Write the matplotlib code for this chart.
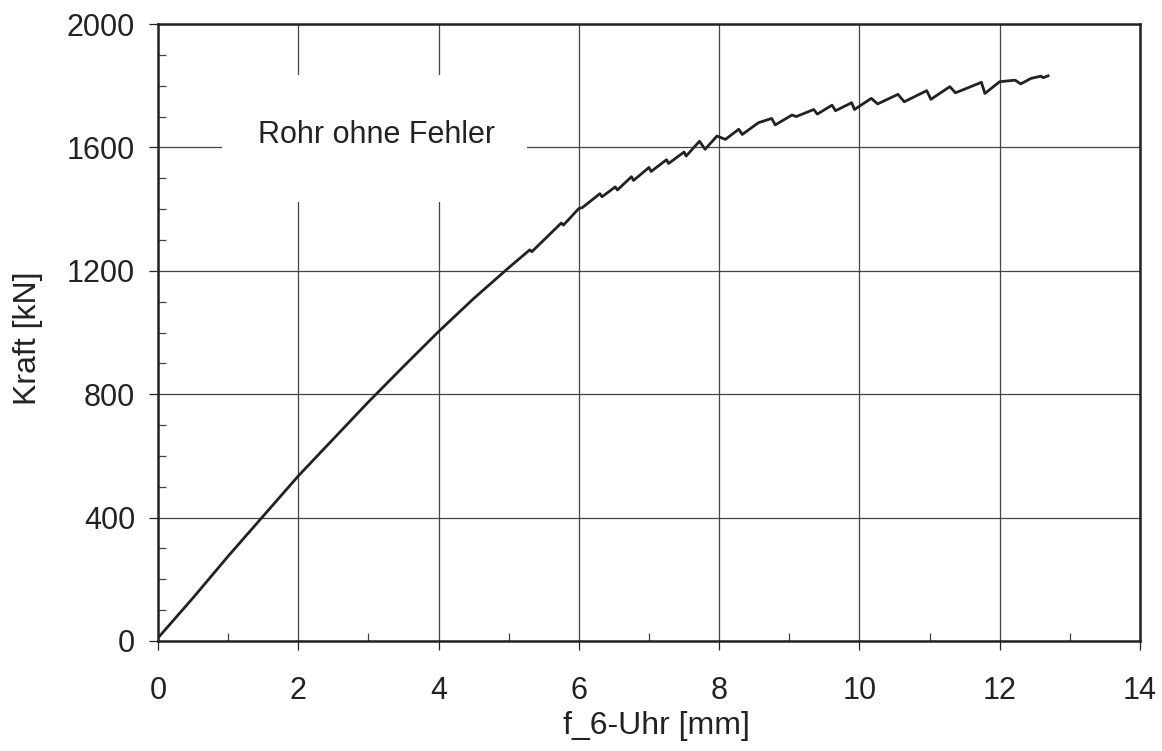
import matplotlib
matplotlib.use("Agg")
import matplotlib.pyplot as plt
from matplotlib.patches import Rectangle
from matplotlib.ticker import MultipleLocator

# Data
deflection_mm = [0.0, 0.5, 1.0, 1.5, 2.0, 2.5, 3.0, 3.5, 4.0, 4.5, 5.0,
                 5.30, 5.33, 5.75, 5.78, 6.00, 6.05, 6.30, 6.33, 6.52, 6.55,
                 6.75, 6.78, 7.00, 7.03, 7.25, 7.28, 7.50, 7.53, 7.72, 7.80,
                 7.97, 8.09, 8.28, 8.33, 8.56, 8.75, 8.80, 9.04, 9.10, 9.35,
                 9.40, 9.61, 9.66, 9.89, 9.93, 10.17, 10.26, 10.55, 10.64,
                 10.96, 11.02, 11.29, 11.37, 11.74, 11.79, 12.00, 12.22,
                 12.30, 12.45, 12.59, 12.62, 12.69]
force_kN = [10, 140, 275, 405, 535, 655, 775, 890, 1003, 1110, 1210,
            1268, 1262, 1355, 1348, 1402, 1405, 1450, 1440, 1472, 1462,
            1505, 1493, 1535, 1522, 1560, 1548, 1585, 1572, 1620, 1594,
            1637, 1626, 1659, 1642, 1680, 1694, 1673, 1705, 1700, 1723,
            1708, 1737, 1719, 1745, 1723, 1759, 1741, 1772, 1748,
            1784, 1756, 1797, 1777, 1811, 1775, 1813, 1818,
            1806, 1824, 1831, 1826, 1832]
x_ticks = [0, 2, 4, 6, 8, 10, 12, 14]
y_ticks = [0, 400, 800, 1200, 1600, 2000]
annotation = "Rohr ohne Fehler"

plt.rcParams['font.family'] = ['Liberation Sans', 'DejaVu Sans']

fig = plt.figure(figsize=(11.62, 7.51), dpi=100)
ax = fig.add_axes([0.136, 0.1465, 0.845, 0.8215])

ax.set_xlim(0, 14)
ax.set_ylim(0, 2000)
ax.set_xticks(x_ticks)
ax.set_yticks(y_ticks)
ax.xaxis.set_minor_locator(MultipleLocator(1))
ax.yaxis.set_minor_locator(MultipleLocator(100))

ax.set_axisbelow(True)
ax.grid(True, which='major', color='#444444', linewidth=0.9)

ax.add_patch(Rectangle((0.91, 1423), 4.35, 412, facecolor='white',
                       edgecolor='none', zorder=1))
ax.text(3.12, 1640, annotation, fontsize=22, ha='center', va='center',
        color='#222222', zorder=2)

ax.plot(deflection_mm, force_kN, color='#222222', linewidth=2.0, zorder=3)

for s in ax.spines.values():
    s.set_linewidth(1.8)
    s.set_color('#222222')

ax.tick_params(which='major', direction='out', length=6.5, width=0.9,
               labelsize=22, colors='#222222')
ax.tick_params(axis='x', which='major', pad=19)
ax.tick_params(axis='y', which='major', pad=10)
ax.tick_params(which='minor', direction='in', length=5.5, width=0.9,
               colors='#444444')

ax.set_xlabel("f_6-Uhr [mm]", fontsize=23, color='#222222')
ax.set_ylabel("Kraft [kN]", fontsize=23, color='#222222')
ax.xaxis.set_label_coords(0.508, -0.114)
ax.yaxis.set_label_coords(-0.117, 0.49)

fig.savefig("out.png", dpi=100)
